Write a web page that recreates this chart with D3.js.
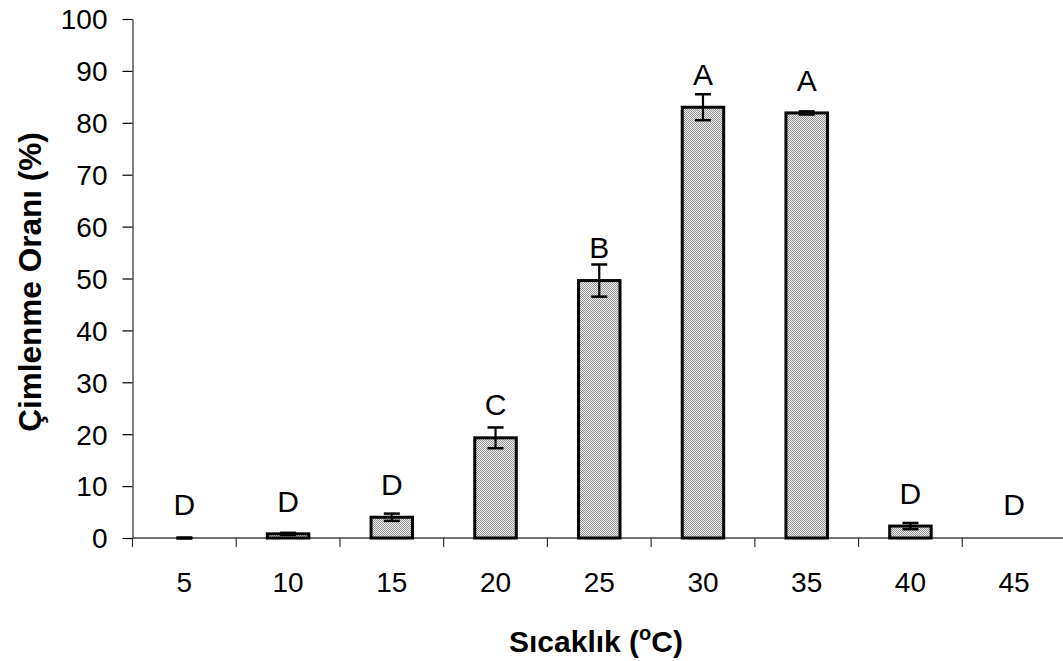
<!DOCTYPE html>
<html>
<head>
<meta charset="utf-8">
<script src="https://cdn.jsdelivr.net/npm/d3@7"></script>
<style>
  body { margin: 0; background: #fff; }
  svg text { font-family: Arial, "Liberation Sans", sans-serif; fill: #000; }
</style>
</head>
<body>
<div id="chart"></div>
<script>
// values
const temps = ["5", "10", "15", "20", "25", "30", "35", "40", "45"];
const germination = [0, 0.8, 4.0, 19.3, 49.6, 83.0, 81.9, 2.3, 0];
const errors = [0.1, 0.2, 0.7, 2.0, 3.1, 2.5, 0.3, 0.6, 0];
const groups = ["D", "D", "D", "C", "B", "A", "A", "D", "D"];
const groupY = [4.4, 5.1, 8.3, 23.7, 53.9, 87.3, 86.1, 6.6, 4.4];
const yTicks = [0, 10, 20, 30, 40, 50, 60, 70, 80, 90, 100];

const width = 1063, height = 661;
const margin = { top: 19, left: 132.5, bottom: 123, right: -3 };

const svg = d3.select("#chart").append("svg")
  .attr("width", width)
  .attr("height", height);

const defs = svg.append("defs");
const pat = defs.append("pattern")
  .attr("id", "dots")
  .attr("width", 2).attr("height", 2)
  .attr("patternUnits", "userSpaceOnUse");
pat.append("rect").attr("width", 2).attr("height", 2).attr("fill", "#f0f0f0");
pat.append("rect").attr("width", 1).attr("height", 1).attr("fill", "#939393");
pat.append("rect").attr("x", 1).attr("y", 1).attr("width", 1).attr("height", 1).attr("fill", "#939393");

const x = d3.scaleBand()
  .domain(temps)
  .range([margin.left, width - margin.right])
  .paddingInner(0.6)
  .paddingOuter(0.3);

const y = d3.scaleLinear()
  .domain([0, 100])
  .range([height - margin.bottom, margin.top]);

const data = temps.map((t, i) => ({
  t, v: germination[i], e: errors[i], g: groups[i], gy: groupY[i]
}));

// y axis
const yAxis = svg.append("g")
  .attr("transform", `translate(${margin.left},0)`)
  .call(d3.axisLeft(y).tickValues(yTicks).tickSize(10).tickPadding(15).tickSizeOuter(0));
yAxis.select(".domain").attr("stroke", "#808080").attr("stroke-width", 2);
yAxis.selectAll(".tick line").attr("stroke", "#000").attr("stroke-width", 1.2);
yAxis.selectAll(".tick text").attr("font-size", 28).attr("dy", "0.35em").style("font-family", "Arial, 'Liberation Sans', sans-serif");

// x axis
const x0 = y(0);
svg.append("line")
  .attr("x1", margin.left).attr("x2", width)
  .attr("y1", x0).attr("y2", x0)
  .attr("stroke", "#444").attr("stroke-width", 1.5);

svg.append("g").selectAll("line")
  .data(d3.range(temps.length + 1))
  .join("line")
  .attr("x1", i => x.range()[0] + i * x.step())
  .attr("x2", i => x.range()[0] + i * x.step())
  .attr("y1", x0).attr("y2", x0 + 9)
  .attr("stroke", "#333").attr("stroke-width", 1.2);

svg.append("g").selectAll("text")
  .data(temps)
  .join("text")
  .attr("x", d => x(d) + x.bandwidth() / 2)
  .attr("y", 592)
  .attr("text-anchor", "middle")
  .attr("font-size", 28)
  .text(d => d);

// bars
svg.append("g").selectAll("rect")
  .data(data.filter(d => d.v > 0))
  .join("rect")
  .attr("x", d => x(d.t))
  .attr("y", d => y(d.v))
  .attr("width", x.bandwidth())
  .attr("height", d => y(0) - y(d.v))
  .attr("fill", "url(#dots)")
  .attr("stroke", "#000")
  .attr("stroke-width", 3);

// error bars
const eb = svg.append("g").selectAll("g")
  .data(data.filter(d => d.e > 0))
  .join("g")
  .attr("transform", d => `translate(${x(d.t) + x.bandwidth() / 2},0)`);
eb.append("line")
  .attr("y1", d => y(d.v + d.e)).attr("y2", d => y(d.v - d.e))
  .attr("stroke", "#000").attr("stroke-width", 2.2);
eb.append("line")
  .attr("x1", -8).attr("x2", 8)
  .attr("y1", d => y(d.v + d.e)).attr("y2", d => y(d.v + d.e))
  .attr("stroke", "#000").attr("stroke-width", 2.5);
eb.append("line")
  .attr("x1", -8).attr("x2", 8)
  .attr("y1", d => y(d.v - d.e)).attr("y2", d => y(d.v - d.e))
  .attr("stroke", "#000").attr("stroke-width", 2.5);

// group letters
svg.append("g").selectAll("text")
  .data(data)
  .join("text")
  .attr("x", d => x(d.t) + x.bandwidth() / 2)
  .attr("y", d => y(d.gy))
  .attr("text-anchor", "middle")
  .attr("font-size", 30)
  .text(d => d.g);

// axis titles
const xt = svg.append("text")
  .attr("x", 596)
  .attr("y", 652)
  .attr("text-anchor", "middle")
  .attr("font-size", 30)
  .attr("font-weight", "bold");
xt.append("tspan").text("Sıcaklık (");
xt.append("tspan").attr("font-size", 20).attr("dy", -12).text("o");
xt.append("tspan").attr("dy", 12).text("C)");

svg.append("text")
  .attr("transform", "translate(41,282) rotate(-90)")
  .attr("text-anchor", "middle")
  .attr("font-size", 31.5)
  .attr("font-weight", "bold")
  .text("Çimlenme Oranı (%)");
</script>
</body>
</html>
